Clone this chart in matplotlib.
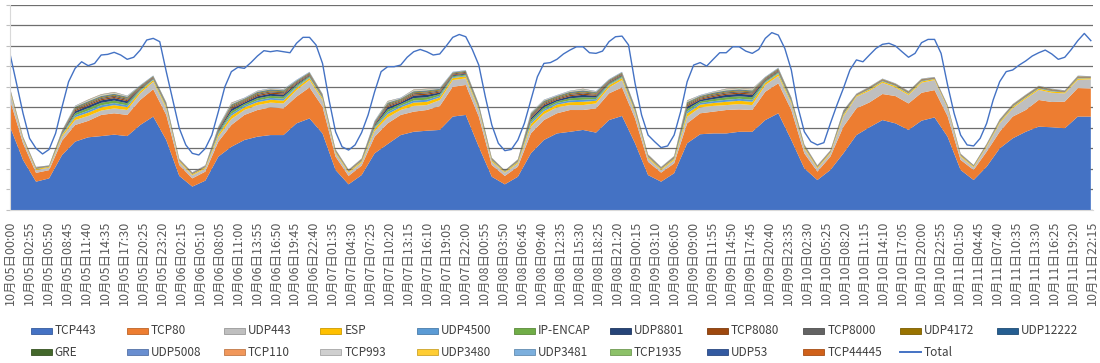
import numpy as np
import pandas as pd
import matplotlib
matplotlib.use("Agg")
import matplotlib.pyplot as plt
from matplotlib.patches import Rectangle
from matplotlib.lines import Line2D
import matplotlib.colors as mcolors

plt.rcParams['font.family'] = ['Noto Sans CJK JP', 'DejaVu Sans']

#%% --- Data (1 unit = 1/100 of one gridline step) ---

# stacked series are sampled every 2 h, Total every 1 h, from 10/05 00:00
stack_hours = np.arange(0, 167, 2)
total_hours = np.arange(0, 167)

tcp443 = [406, 244, 138, 154, 268, 333, 354, 360, 367, 360, 414, 455,
          341, 166, 114, 143, 260, 308, 341, 357, 365, 365, 422, 446,
          373, 195, 125, 170, 276, 321, 365, 381, 386, 390, 455, 463,
          308, 162, 125, 162, 276, 341, 373, 381, 390, 377, 438, 458,
          325, 170, 138, 179, 325, 369, 373, 373, 381, 381, 438, 471,
          341, 203, 146, 195, 276, 365, 403, 438, 422, 390, 435, 451,
          357, 195, 146, 211, 300, 349, 381, 406, 403, 398, 455, 455]
tcp80 = [130, 81, 43, 40, 70, 81, 80, 103, 104, 103, 122, 133,
         122, 53, 40, 44, 73, 106, 122, 130, 135, 130, 130, 151,
         130, 65, 41, 46, 81, 101, 98, 98, 101, 116, 145, 146,
         147, 57, 41, 49, 97, 97, 98, 106, 97, 118, 130, 139,
         121, 65, 44, 48, 97, 102, 106, 114, 109, 106, 138, 146,
         146, 73, 41, 65, 130, 130, 121, 127, 133, 129, 136, 133,
         100, 49, 49, 73, 81, 106, 106, 130, 123, 130, 139, 137]
udp443 = [40, 18, 14, 12, 20, 24, 24, 21, 24, 24, 32, 37,
          32, 16, 15, 16, 24, 29, 24, 24, 23, 24, 32, 36,
          33, 16, 16, 15, 28, 29, 24, 28, 24, 29, 33, 32,
          32, 16, 16, 16, 32, 29, 29, 24, 24, 24, 29, 36,
          28, 16, 13, 16, 32, 29, 28, 24, 26, 24, 33, 36,
          32, 24, 16, 16, 50, 57, 57, 55, 42, 41, 49, 49,
          40, 16, 13, 24, 41, 41, 55, 49, 45, 40, 40, 45]
esp = [6, 5, 5, 4, 8, 14, 16, 16, 16, 14, 10, 8,
       8, 5, 5, 5, 11, 16, 13, 14, 14, 14, 11, 10,
       8, 6, 5, 6, 11, 16, 13, 16, 16, 13, 10, 10,
       8, 6, 4, 6, 14, 14, 13, 14, 16, 13, 10, 10,
       8, 6, 5, 6, 16, 13, 14, 16, 16, 16, 10, 10,
       8, 6, 5, 5, 8, 5, 6, 6, 6, 6, 6, 5,
       5, 5, 4, 5, 6, 6, 6, 6, 6, 5, 6, 5]
udp4500 = [2, 1, 1, 1, 3, 9, 10, 10, 10, 9, 4, 3,
           3, 1, 1, 1, 6, 10, 8, 9, 9, 9, 6, 4,
           3, 2, 1, 2, 6, 10, 8, 10, 10, 8, 4, 4,
           3, 2, 1, 2, 9, 9, 8, 9, 10, 8, 4, 4,
           3, 2, 1, 2, 10, 8, 9, 10, 10, 10, 4, 4,
           3, 2, 1, 1, 3, 1, 2, 2, 2, 2, 2, 1,
           1, 1, 1, 1, 2, 2, 2, 2, 2, 1, 2, 1]
ip_encap = [2, 1, 1, 1, 3, 10, 12, 12, 12, 10, 5, 3,
            3, 1, 1, 1, 7, 12, 8, 10, 10, 10, 7, 5,
            3, 2, 1, 2, 7, 12, 8, 12, 12, 8, 5, 5,
            3, 2, 1, 2, 10, 10, 8, 10, 12, 8, 5, 5,
            3, 2, 1, 2, 12, 8, 10, 12, 12, 12, 5, 5,
            3, 2, 1, 1, 3, 1, 2, 2, 2, 2, 2, 1,
            1, 1, 1, 1, 2, 2, 2, 2, 2, 1, 2, 1]
udp8801 = [1, 1, 1, 0, 3, 10, 12, 12, 12, 10, 4, 3,
           3, 1, 1, 1, 6, 12, 8, 10, 10, 10, 6, 4,
           3, 1, 1, 1, 6, 12, 8, 12, 12, 8, 4, 4,
           3, 1, 0, 1, 10, 10, 8, 10, 12, 8, 4, 4,
           3, 1, 1, 1, 12, 8, 10, 12, 12, 12, 4, 4,
           3, 1, 1, 1, 3, 1, 1, 1, 1, 1, 1, 1,
           1, 1, 0, 1, 1, 1, 1, 1, 1, 1, 1, 1]
tcp8080 = [2, 2, 2, 1, 3, 6, 6, 6, 6, 6, 4, 3,
           3, 2, 2, 2, 5, 6, 5, 6, 6, 6, 5, 4,
           3, 2, 2, 2, 5, 6, 5, 6, 6, 5, 4, 4,
           3, 2, 1, 2, 6, 6, 5, 6, 6, 5, 4, 4,
           3, 2, 2, 2, 6, 5, 6, 6, 6, 6, 4, 4,
           3, 2, 2, 2, 3, 2, 2, 2, 2, 2, 2, 2,
           2, 2, 1, 2, 2, 2, 2, 2, 2, 2, 2, 2]
tcp8000 = [3, 2, 2, 2, 4, 6, 6, 6, 6, 6, 5, 4,
           4, 2, 2, 2, 5, 6, 5, 6, 6, 6, 5, 5,
           4, 3, 2, 3, 5, 6, 5, 6, 6, 5, 5, 5,
           4, 3, 2, 3, 6, 6, 5, 6, 6, 5, 5, 5,
           4, 3, 2, 3, 6, 5, 6, 6, 6, 6, 5, 5,
           4, 3, 2, 2, 4, 2, 3, 3, 3, 3, 3, 2,
           2, 2, 2, 2, 3, 3, 3, 3, 3, 2, 3, 2]
udp4172 = [2, 1, 1, 1, 2, 4, 4, 4, 4, 4, 3, 2,
           2, 1, 1, 1, 3, 4, 4, 4, 4, 4, 3, 3,
           2, 2, 1, 2, 3, 4, 4, 4, 4, 4, 3, 3,
           2, 2, 1, 2, 4, 4, 4, 4, 4, 4, 3, 3,
           2, 2, 1, 2, 4, 4, 4, 4, 4, 4, 3, 3,
           2, 2, 1, 1, 2, 1, 2, 2, 2, 2, 2, 1,
           1, 1, 1, 1, 2, 2, 2, 2, 2, 1, 2, 1]
udp12222 = [0, 0, 0, 0, 1, 3, 3, 3, 3, 3, 1, 1,
            1, 0, 0, 0, 2, 3, 2, 3, 3, 3, 2, 1,
            1, 0, 0, 0, 2, 3, 2, 3, 3, 2, 1, 1,
            1, 0, 0, 0, 3, 3, 2, 3, 3, 2, 1, 1,
            1, 0, 0, 0, 3, 2, 3, 3, 3, 3, 1, 1,
            1, 0, 0, 0, 1, 0, 0, 0, 0, 0, 0, 0,
            0, 0, 0, 0, 0, 0, 0, 0, 0, 0, 0, 0]
gre = [0, 0, 0, 0, 1, 2, 2, 2, 2, 2, 1, 1,
       1, 0, 0, 0, 1, 2, 2, 2, 2, 2, 1, 1,
       1, 0, 0, 0, 1, 2, 2, 2, 2, 2, 1, 1,
       1, 0, 0, 0, 2, 2, 2, 2, 2, 2, 1, 1,
       1, 0, 0, 0, 2, 2, 2, 2, 2, 2, 1, 1,
       1, 0, 0, 0, 1, 0, 0, 0, 0, 0, 0, 0,
       0, 0, 0, 0, 0, 0, 0, 0, 0, 0, 0, 0]
udp5008 = [0, 0, 0, 0, 0, 1, 1, 1, 1, 1, 1, 0,
           0, 0, 0, 0, 1, 1, 1, 1, 1, 1, 1, 1,
           0, 0, 0, 0, 1, 1, 1, 1, 1, 1, 1, 1,
           0, 0, 0, 0, 1, 1, 1, 1, 1, 1, 1, 1,
           0, 0, 0, 0, 1, 1, 1, 1, 1, 1, 1, 1,
           0, 0, 0, 0, 0, 0, 0, 0, 0, 0, 0, 0,
           0, 0, 0, 0, 0, 0, 0, 0, 0, 0, 0, 0]
tcp110 = [0, 0, 0, 0, 0, 1, 1, 1, 1, 1, 0, 0,
          0, 0, 0, 0, 0, 1, 1, 1, 1, 1, 0, 0,
          0, 0, 0, 0, 0, 1, 1, 1, 1, 1, 0, 0,
          0, 0, 0, 0, 1, 1, 1, 1, 1, 1, 0, 0,
          0, 0, 0, 0, 1, 1, 1, 1, 1, 1, 0, 0,
          0, 0, 0, 0, 0, 0, 0, 0, 0, 0, 0, 0,
          0, 0, 0, 0, 0, 0, 0, 0, 0, 0, 0, 0]
tcp993 = [1, 1, 1, 0, 1, 1, 2, 2, 2, 1, 1, 1,
          1, 1, 1, 1, 1, 2, 1, 1, 1, 1, 1, 1,
          1, 1, 1, 1, 1, 2, 1, 2, 2, 1, 1, 1,
          1, 1, 0, 1, 1, 1, 1, 1, 2, 1, 1, 1,
          1, 1, 1, 1, 2, 1, 1, 2, 2, 2, 1, 1,
          1, 1, 1, 1, 1, 1, 1, 1, 1, 1, 1, 1,
          1, 1, 0, 1, 1, 1, 1, 1, 1, 1, 1, 1]
udp3480 = [0, 0, 0, 0, 0, 1, 1, 1, 1, 1, 0, 0,
           0, 0, 0, 0, 0, 1, 0, 1, 1, 1, 0, 0,
           0, 0, 0, 0, 0, 1, 0, 1, 1, 0, 0, 0,
           0, 0, 0, 0, 1, 1, 0, 1, 1, 0, 0, 0,
           0, 0, 0, 0, 1, 0, 1, 1, 1, 1, 0, 0,
           0, 0, 0, 0, 0, 0, 0, 0, 0, 0, 0, 0,
           0, 0, 0, 0, 0, 0, 0, 0, 0, 0, 0, 0]
udp3481 = [0, 0, 0, 0, 0, 1, 1, 1, 1, 1, 0, 0,
           0, 0, 0, 0, 1, 1, 1, 1, 1, 1, 1, 0,
           0, 0, 0, 0, 1, 1, 1, 1, 1, 1, 0, 0,
           0, 0, 0, 0, 1, 1, 1, 1, 1, 1, 0, 0,
           0, 0, 0, 0, 1, 1, 1, 1, 1, 1, 0, 0,
           0, 0, 0, 0, 0, 0, 0, 0, 0, 0, 0, 0,
           0, 0, 0, 0, 0, 0, 0, 0, 0, 0, 0, 0]
tcp1935 = [0, 0, 0, 0, 0, 0, 1, 1, 1, 0, 0, 0,
           0, 0, 0, 0, 0, 1, 0, 0, 0, 0, 0, 0,
           0, 0, 0, 0, 0, 1, 0, 1, 1, 0, 0, 0,
           0, 0, 0, 0, 0, 0, 0, 0, 1, 0, 0, 0,
           0, 0, 0, 0, 1, 0, 0, 1, 1, 1, 0, 0,
           0, 0, 0, 0, 0, 0, 0, 0, 0, 0, 0, 0,
           0, 0, 0, 0, 0, 0, 0, 0, 0, 0, 0, 0]
udp53 = [1, 1, 1, 1, 1, 1, 1, 1, 1, 1, 1, 1,
         1, 1, 1, 1, 1, 1, 1, 1, 1, 1, 1, 1,
         1, 1, 1, 1, 1, 1, 1, 1, 1, 1, 1, 1,
         1, 1, 1, 1, 1, 1, 1, 1, 1, 1, 1, 1,
         1, 1, 1, 1, 1, 1, 1, 1, 1, 1, 1, 1,
         1, 1, 1, 1, 1, 1, 1, 1, 1, 1, 1, 1,
         1, 1, 1, 1, 1, 1, 1, 1, 1, 1, 1, 1]
tcp44445 = [0, 0, 0, 0, 0, 0, 1, 1, 1, 0, 0, 0,
            0, 0, 0, 0, 0, 1, 0, 0, 0, 0, 0, 0,
            0, 0, 0, 0, 0, 1, 0, 1, 1, 0, 0, 0,
            0, 0, 0, 0, 0, 0, 0, 0, 1, 0, 0, 0,
            0, 0, 0, 0, 1, 0, 0, 1, 1, 1, 0, 0,
            0, 0, 0, 0, 0, 0, 0, 0, 0, 0, 0, 0,
            0, 0, 0, 0, 0, 0, 0, 0, 0, 0, 0, 0]

total = [760, 617, 471, 349, 300, 273, 295, 373, 503, 625, 690, 722,
         703, 714, 755, 758, 768, 755, 734, 744, 779, 828, 836, 820,
         674, 536, 398, 317, 276, 268, 300, 365, 479, 600, 674, 695,
         690, 718, 750, 776, 771, 776, 771, 766, 812, 841, 841, 804,
         714, 536, 381, 308, 292, 317, 377, 463, 576, 674, 698, 698,
         706, 744, 771, 782, 771, 755, 760, 799, 841, 855, 844, 782,
         706, 552, 414, 325, 289, 295, 341, 422, 536, 649, 714, 718,
         734, 760, 779, 795, 795, 766, 763, 774, 820, 844, 847, 804,
         617, 463, 365, 333, 304, 312, 365, 479, 625, 706, 718, 701,
         734, 766, 766, 795, 795, 774, 763, 782, 836, 864, 852, 787,
         682, 503, 381, 333, 317, 328, 422, 511, 593, 682, 731, 722,
         755, 787, 807, 812, 799, 771, 744, 763, 815, 831, 831, 763,
         609, 471, 365, 317, 312, 349, 422, 536, 625, 674, 682, 706,
         726, 750, 766, 779, 760, 734, 744, 782, 825, 860, 825]

series_names = ["TCP443", "TCP80", "UDP443", "ESP", "UDP4500", "IP-ENCAP",
                "UDP8801", "TCP8080", "TCP8000", "UDP4172", "UDP12222", "GRE",
                "UDP5008", "TCP110", "TCP993", "UDP3480", "UDP3481", "TCP1935",
                "UDP53", "TCP44445"]
series_values = [tcp443, tcp80, udp443, esp, udp4500, ip_encap, udp8801,
                 tcp8080, tcp8000, udp4172, udp12222, gre, udp5008, tcp110,
                 tcp993, udp3480, udp3481, tcp1935, udp53, tcp44445]

# x tick labels: one every 35 samples of 5 min
tick_times = pd.date_range("2020-10-05 00:00", periods=58, freq="175min")
tick_labels = [f"{t.month:02d}月{t.day:02d}日{t.hour:02d}:{t.minute:02d}"
               for t in tick_times]

#%% --- Colors (Excel office palette) ---
series_colors = ["#4472C4", "#ED7D31", "#BFBFBF", "#FFC000", "#5B9BD5", "#70AD47",
                 "#264478", "#9E480E", "#636363", "#997300", "#255E91", "#43682B",
                 "#698ED0", "#F1975A", "#CFCFCF", "#FFCD33", "#7CAFDD", "#8CC168",
                 "#335AA1", "#D0611A"]
total_color = "#4472C4"

#%% --- Figure ---
W, H = 1100, 363
fig = plt.figure(figsize=(W / 100, H / 100), dpi=100)
ax = fig.add_axes([10 / W, 1 - 210 / H, 1083 / W, (210 - 4.7) / H])

ax.stackplot(stack_hours, *series_values, colors=series_colors, linewidth=0)
ax.plot(total_hours, total, color=total_color, lw=1.0)

ax.set_ylim(0, 1000)
ax.set_xlim(0, 1996 / 12)
ax.set_yticks(np.arange(0, 1001, 100))
ax.yaxis.grid(True, color="#6e6e6e", lw=0.9)
ax.set_axisbelow(True)
ax.tick_params(axis="y", length=3, color="#bfbfbf", labelleft=False)

ax.set_xticks(np.arange(58) * 35 / 12)
ax.set_xticklabels(tick_labels, rotation=90, fontsize=9, color="#595959")
ax.tick_params(axis="x", length=0, pad=8)

for s in ["top", "right"]:
    ax.spines[s].set_visible(False)
ax.spines["bottom"].set_color("#d9d9d9")
ax.spines["left"].set_color("#d9d9d9")

#%% --- Legend (drawn by hand, Excel-like equal columns) ---
col_w = 96.6
row_y = [331, 352]
legend_rows = [series_names[:11], series_names[11:] + ["Total"]]
for r, names in enumerate(legend_rows):
    y = 1 - row_y[r] / H
    for c, name in enumerate(names):
        x0 = 30.5 + col_w * c
        if name == "Total":
            fig.add_artist(Line2D([x0 / W, (x0 + 21) / W], [y, y],
                                  transform=fig.transFigure, color=total_color, lw=1.4))
        else:
            colr = series_colors[series_names.index(name)]
            edge = tuple(v * 0.8 for v in mcolors.to_rgb(colr))
            fig.add_artist(Rectangle((x0 / W, y - 3 / H), 21 / W, 6 / H,
                                     transform=fig.transFigure,
                                     facecolor=colr, edgecolor=edge, lw=0.6))
        fig.text((x0 + 24) / W, y, name, ha="left", va="center",
                 fontsize=8.5, color="#404040")

fig.savefig("out.png", dpi=100)
